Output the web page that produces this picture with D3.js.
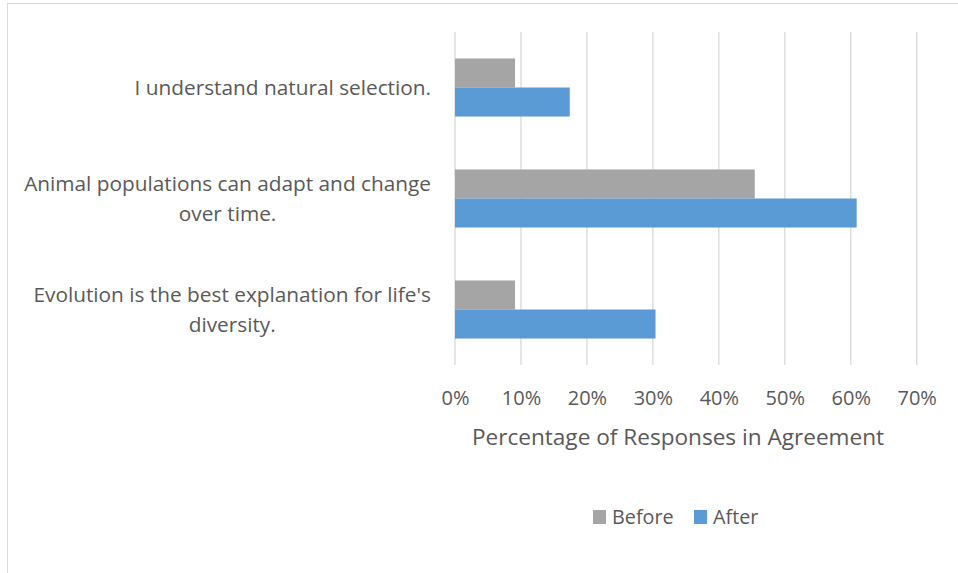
<!DOCTYPE html>
<html><head><meta charset="utf-8">
<script src="https://cdn.jsdelivr.net/npm/d3@7"></script>
<style>body{margin:0;background:#fff;}svg{display:block;font-family:"Open Sans",sans-serif;}</style>
</head><body>
<svg id="c" width="958" height="573"></svg>
<script>
const categories = [
  ["I understand natural selection."],
  ["Animal populations can adapt and change", "over time."],
  ["Evolution is the best explanation for life's", "diversity."]
];
const seriesNames = ["Before", "After"];
const beforeValues = [0.091, 0.4545, 0.091];
const afterValues = [0.174, 0.609, 0.304];
const tickValues = [0, 0.1, 0.2, 0.3, 0.4, 0.5, 0.6, 0.7];
const colors = ["#A5A5A5", "#5B9BD5"];

const svg = d3.select("#c");
const textColor = "#595959";
svg.append("rect").attr("x", 7.5).attr("y", 3.5).attr("width", 1000).attr("height", 1000)
  .attr("fill", "#fff").attr("stroke", "#d9d9d9");

const m = {left: 455, right: 916.7, top: 32, bottom: 365};
const x = d3.scaleLinear().domain([0, 0.7]).range([m.left, m.right]);
const y = d3.scaleBand().domain(d3.range(categories.length)).range([m.top, m.bottom])
  .paddingInner(0.477).paddingOuter(0.2385);
const ySub = d3.scaleBand().domain(seriesNames).range([0, y.bandwidth()]);

// gridlines
svg.append("g").selectAll("line").data(tickValues).join("line")
  .attr("x1", d => x(d)).attr("x2", d => x(d))
  .attr("y1", m.top).attr("y2", m.bottom)
  .attr("stroke", "#d9d9d9").attr("stroke-width", 1.3);

// bars
const data = [beforeValues, afterValues];
seriesNames.forEach((s, si) => {
  svg.append("g").selectAll("rect").data(data[si]).join("rect")
    .attr("x", x(0)).attr("y", (d, i) => y(i) + ySub(s))
    .attr("width", d => x(d) - x(0)).attr("height", ySub.bandwidth())
    .attr("fill", colors[si]);
});

// x tick labels
const xAxis = d3.axisBottom(x).tickValues(tickValues).tickFormat(d3.format(".0%")).tickSize(0).tickPadding(0);
const gx = svg.append("g").attr("transform", `translate(0,${m.bottom})`).call(xAxis);
gx.select(".domain").remove();
gx.selectAll("text").attr("font-size", 20).attr("fill", textColor)
  .attr("font-family", "Open Sans").attr("dy", null).attr("y", 40);

// axis title
svg.append("text").attr("x", 678).attr("y", 445)
  .attr("text-anchor", "middle").attr("font-size", 22.6).attr("fill", textColor)
  .text("Percentage of Responses in Agreement");

// category labels
const labelRight = 431;
categories.forEach((lines, i) => {
  const cy = y(i) + y.bandwidth() / 2;
  const g = svg.append("g");
  const texts = lines.map((t, li) => g.append("text").attr("font-size", 20.8).attr("fill", textColor)
    .attr("y", cy + (li - (lines.length - 1) / 2) * 30 + 7).text(t));
  const maxW = d3.max(texts, t => t.node().getComputedTextLength());
  texts.forEach(t => t.attr("text-anchor", "middle").attr("x", labelRight - maxW / 2));
});

// legend
const legendItems = [{name: "Before", x: 593}, {name: "After", x: 694}];
const lg = svg.append("g");
legendItems.forEach((it, i) => {
  lg.append("rect").attr("x", it.x).attr("y", 510).attr("width", 13).attr("height", 14).attr("fill", colors[i]);
  lg.append("text").attr("x", it.x + 19).attr("y", 524).attr("font-size", 19.8).attr("fill", textColor).text(it.name);
});
</script>
</body></html>
